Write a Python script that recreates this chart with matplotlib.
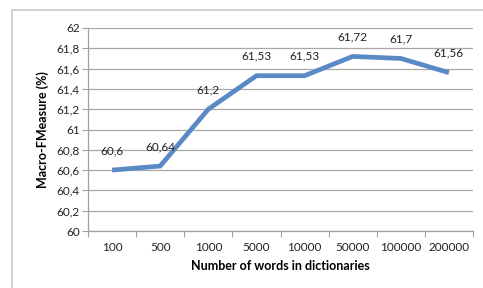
import matplotlib
matplotlib.use('Agg')
import matplotlib.pyplot as plt
from matplotlib.patches import Rectangle
import numpy as np

categories = ['100', '500', '1000', '5000', '10000', '50000', '100000', '200000']
values = [60.6, 60.64, 61.2, 61.53, 61.53, 61.72, 61.7, 61.56]
value_labels = ['60,6', '60,64', '61,2', '61,53', '61,53', '61,72', '61,7', '61,56']
y_ticks = [60, 60.2, 60.4, 60.6, 60.8, 61, 61.2, 61.4, 61.6, 61.8, 62]
y_tick_labels = ['60', '60,2', '60,4', '60,6', '60,8', '61', '61,2', '61,4', '61,6', '61,8', '62']

plt.rcParams['font.family'] = ['Lato', 'DejaVu Sans']

fig = plt.figure(figsize=(4.83, 2.88), dpi=100)
# outer chart frame
fig.patches.append(Rectangle((12 / 483, -0.1), 1.0, 1 - 10 / 288 + 0.1,
                             transform=fig.transFigure, fill=False,
                             edgecolor='#c8c8c8', linewidth=1.2))

ax = fig.add_axes([88 / 483, 1 - 231 / 288, (473 - 88) / 483, (231 - 28) / 288])

x = np.arange(len(categories))
ax.plot(x, values, color='#5a8ac6', linewidth=3.4, solid_capstyle='butt',
        solid_joinstyle='miter', zorder=3)

for xi, v, lab in zip(x, values, value_labels):
    ax.annotate(lab, (xi, v), xytext=(0, 10), textcoords='offset points',
                ha='center', va='bottom', fontsize=8.5, color='#222222')

ax.set_xlim(-0.5, len(categories) - 0.5)
ax.set_ylim(60, 62)
ax.set_yticks(y_ticks)
ax.set_yticklabels(y_tick_labels)
ax.set_xticks(np.arange(-0.5, len(categories), 1.0))
ax.set_xticklabels([])
ax.set_xticks(x, minor=True)
ax.set_xticklabels(categories, minor=True)

ax.grid(axis='y', color='#a8a8a8', linewidth=0.9)
ax.set_axisbelow(True)
for s in ['top', 'right']:
    ax.spines[s].set_visible(False)
for s in ['left', 'bottom']:
    ax.spines[s].set_color('#a0a0a0')
    ax.spines[s].set_linewidth(0.9)

ax.tick_params(axis='y', which='major', direction='out', length=4,
               color='#a0a0a0', labelsize=8.5, pad=2, labelcolor='#222222')
ax.tick_params(axis='x', which='major', direction='out', length=4,
               color='#a0a0a0')
ax.tick_params(axis='x', which='minor', length=0, labelsize=8.5, pad=8,
               labelcolor='#222222')

ax.set_ylabel('Macro-FMeasure (%)', fontsize=9, fontweight='bold', labelpad=5)
ax.set_xlabel('Number of words in dictionaries', fontsize=9, fontweight='bold',
              labelpad=5)

fig.savefig('out.png', dpi=100)
